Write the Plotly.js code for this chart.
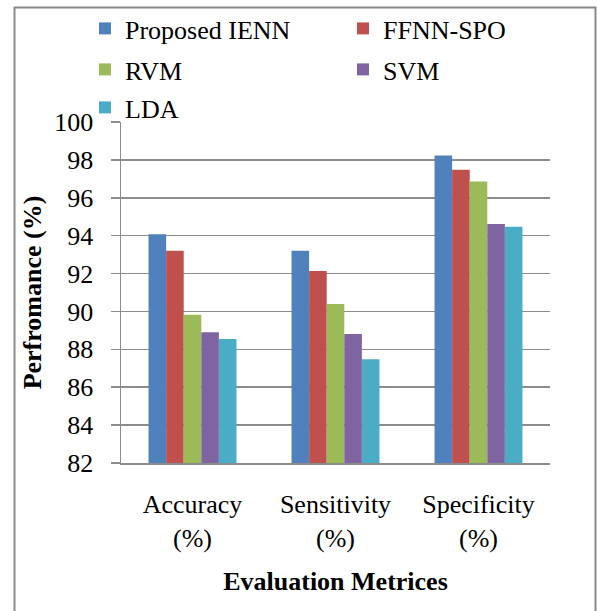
<!DOCTYPE html>
<html>
<head>
<meta charset="utf-8">
<script src="https://cdn.plot.ly/plotly-3.0.1.min.js"></script>
<style>
  html, body { margin: 0; padding: 0; background: #ffffff; }
  #chart { width: 597px; height: 611px; }
</style>
</head>
<body>
<div id="chart"></div>
<script>
// Evaluation metrics on the x axis
const categories = ['Accuracy<br>(%)', 'Sensitivity<br>(%)', 'Specificity<br>(%)'];

// Performance (%) of each method per metric
const proposedIENN = [94.07, 93.21, 98.23];
const ffnnSPO      = [93.21, 92.13, 97.48];
const rvm          = [89.83, 90.39, 96.86];
const svm          = [88.90, 88.81, 94.61];
const lda          = [88.55, 87.48, 94.47];

const seriesNames  = ['Proposed IENN', 'FFNN-SPO', 'RVM', 'SVM', 'LDA'];
const seriesValues = [proposedIENN, ffnnSPO, rvm, svm, lda];
const seriesColors = ['#4F81BD', '#C0504D', '#9BBB59', '#8064A2', '#4BACC6'];
// legend rows: two entries per row
const seriesLegend = ['legend', 'legend', 'legend2', 'legend2', 'legend3'];

const yTicks = [82, 84, 86, 88, 90, 92, 94, 96, 98, 100];

const traces = seriesNames.map((name, i) => ({
  type: 'bar',
  name: name,
  x: categories,
  y: seriesValues[i],
  legend: seriesLegend[i],
  marker: { color: seriesColors[i], line: { width: 0 } }
}));

const serif = '"Liberation Serif", serif';
const gridGrey = '#8c8c8c';

// plot area: 121..550 px horizontally, 122..463 px vertically
const L = 121, R = 550, T = 122, B = 463;
const px = v => (v - L) / (R - L);
const py = v => (B - v) / (B - T);

const legendRow = top => ({
  orientation: 'h',
  x: px(85),
  xanchor: 'left',
  y: py(top),
  yanchor: 'top',
  entrywidth: 213,
  entrywidthmode: 'pixels',
  font: { family: serif, size: 26, color: '#000000' },
  bgcolor: 'rgba(0,0,0,0)',
  traceorder: 'normal'
});

const layout = {
  width: 597,
  height: 611,
  margin: { l: L, r: 597 - R, t: T, b: 611 - B, pad: 0, autoexpand: false },
  paper_bgcolor: '#ffffff',
  plot_bgcolor: '#ffffff',
  font: { family: serif, color: '#000000', size: 26 },
  barmode: 'group',
  bargap: 0.385,
  bargroupgap: 0,
  showlegend: true,
  legend: legendRow(5),
  legend2: legendRow(46),
  legend3: legendRow(84),
  xaxis: {
    type: 'category',
    showline: true,
    linecolor: gridGrey,
    linewidth: 1.5,
    showgrid: false,
    ticks: '',
    tickfont: { family: serif, size: 26, color: '#000000' },
    ticklabelstandoff: 17,
    title: {
      text: '<b>Evaluation Metrices</b>',
      font: { family: serif, size: 26, color: '#000000' },
      standoff: 20
    },
    automargin: false,
    fixedrange: true
  },
  yaxis: {
    range: [82, 100],
    tickvals: yTicks,
    ticktext: yTicks.map(String),
    showline: true,
    linecolor: gridGrey,
    linewidth: 1.5,
    showgrid: true,
    gridcolor: gridGrey,
    gridwidth: 1.5,
    zeroline: false,
    ticks: 'outside',
    ticklen: 9,
    tickwidth: 1.5,
    tickcolor: gridGrey,
    tickfont: { family: serif, size: 26, color: '#000000' },
    ticklabelstandoff: 12,
    title: {
      text: '<b>Perfromance (%)</b>',
      font: { family: serif, size: 26, color: '#000000' },
      standoff: 5
    },
    automargin: false,
    fixedrange: true
  },
  shapes: [{
    // outer frame around the figure (open at the bottom edge)
    type: 'path',
    xref: 'paper',
    yref: 'paper',
    path: `M ${px(14.5)},${py(640)} L ${px(14.5)},${py(7.5)} L ${px(595.5)},${py(7.5)} L ${px(595.5)},${py(640)}`,
    line: { color: '#8a8a8a', width: 2 },
    layer: 'above'
  }]
};

Plotly.newPlot('chart', traces, layout, { displayModeBar: false, staticPlot: true });
</script>
</body>
</html>
